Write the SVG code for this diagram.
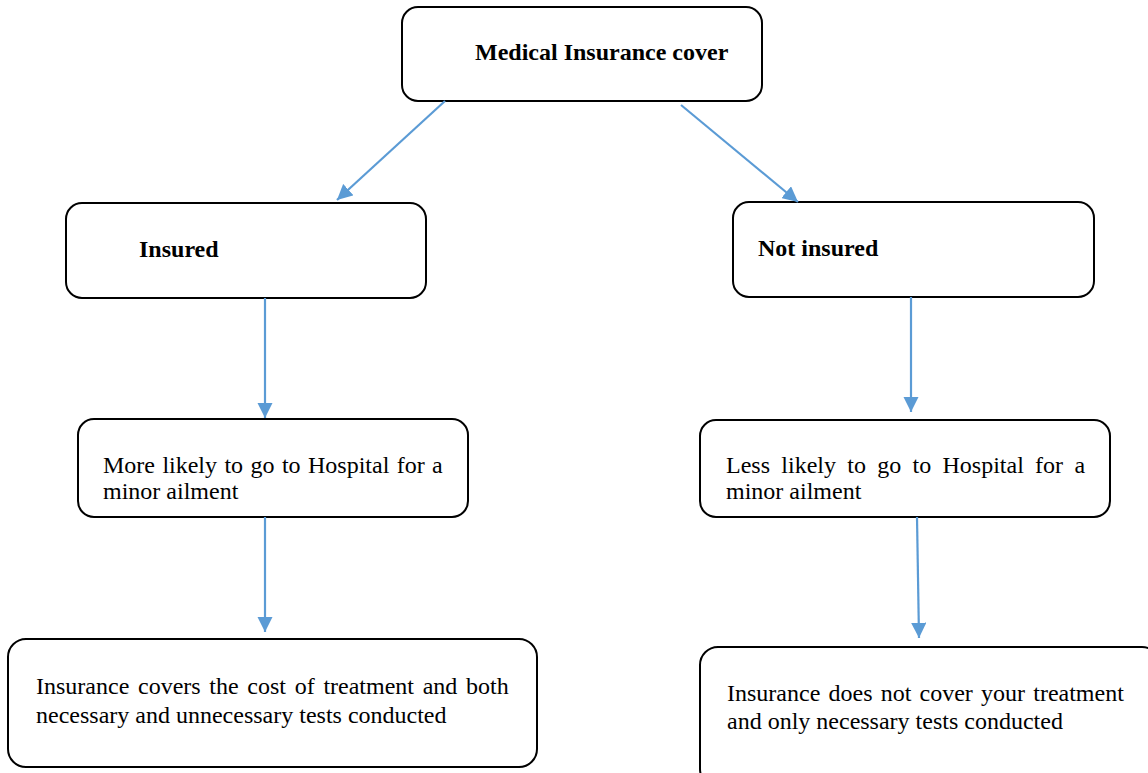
<svg xmlns="http://www.w3.org/2000/svg" width="1148" height="773" viewBox="0 0 1148 773">
<style>
.box{fill:#fff;stroke:#000;stroke-width:2}
.t{font-family:"Liberation Serif","Times New Roman","DejaVu Serif",serif;font-size:24px;fill:#000}
.b{font-weight:bold;font-size:24px}
.c{stroke:#5B9BD5;stroke-width:2.2;fill:none}
</style>
<defs>
<marker id="ah" viewBox="0 0 10 10" refX="10" refY="5" markerWidth="7" markerHeight="7" markerUnits="strokeWidth" orient="auto">
<path d="M0,0 L10,5 L0,10 z" fill="#5B9BD5"/>
</marker>
</defs>
<rect width="1148" height="773" fill="#fff"/>
<g id="n-top"><rect class="box" x="402" y="7" width="360" height="94" rx="16"/><text class="t b" x="475" y="60">Medical Insurance cover</text></g>
<g id="n-insured"><rect class="box" x="66" y="203" width="360" height="95" rx="16"/><text class="t b" x="139" y="257">Insured</text></g>
<g id="n-notinsured"><rect class="box" x="733" y="202" width="361" height="95" rx="16"/><text class="t b" x="758" y="256">Not insured</text></g>
<g id="n-more"><rect class="box" x="78" y="419" width="390" height="98" rx="16"/><text class="t" x="103" y="473" word-spacing="1.4">More likely to go to Hospital for a</text><text class="t" x="103" y="499">minor ailment</text></g>
<g id="n-less"><rect class="box" x="700" y="420" width="410" height="97" rx="16"/><text class="t" x="726" y="473" word-spacing="5.3">Less likely to go to Hospital for a</text><text class="t" x="726" y="499">minor ailment</text></g>
<g id="n-covers"><rect class="box" x="8" y="639" width="529" height="128" rx="18"/><text class="t" x="36" y="694" word-spacing="2.7">Insurance covers the cost of treatment and both</text><text class="t" x="36" y="723">necessary and unnecessary tests conducted</text></g>
<g id="n-notcover"><rect class="box" x="700" y="647" width="460" height="140" rx="18"/><text class="t" x="727" y="701" word-spacing="2.2">Insurance does not cover your treatment</text><text class="t" x="727" y="729">and only necessary tests conducted</text></g>
<g id="connectors">
<line class="c" x1="445" y1="101" x2="337" y2="200" marker-end="url(#ah)"/>
<line class="c" x1="681" y1="105" x2="798" y2="202" marker-end="url(#ah)"/>
<line class="c" x1="265" y1="298" x2="265" y2="418" marker-end="url(#ah)"/>
<line class="c" x1="911" y1="297" x2="911" y2="412" marker-end="url(#ah)"/>
<line class="c" x1="265" y1="517" x2="265" y2="632" marker-end="url(#ah)"/>
<line class="c" x1="917" y1="517" x2="919" y2="638" marker-end="url(#ah)"/>
</g>
</svg>
